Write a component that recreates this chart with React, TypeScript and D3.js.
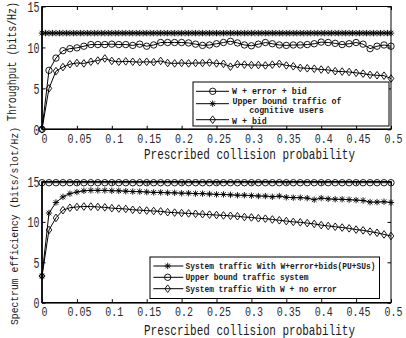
import React, { useEffect, useRef } from 'react';
import * as d3 from 'd3';

const probs = [0, 0.01, 0.02, 0.03, 0.04, 0.05, 0.06, 0.07, 0.08, 0.09, 0.1, 0.11, 0.12, 0.13, 0.14, 0.15, 0.16, 0.17, 0.18, 0.19, 0.2, 0.21, 0.22, 0.23, 0.24, 0.25, 0.26, 0.27, 0.28, 0.29, 0.3, 0.31, 0.32, 0.33, 0.34, 0.35, 0.36, 0.37, 0.38, 0.39, 0.4, 0.41, 0.42, 0.43, 0.44, 0.45, 0.46, 0.47, 0.48, 0.49, 0.5];
const probsFine = [0, 0.005, 0.01, 0.015, 0.02, 0.025, 0.03, 0.035, 0.04, 0.045, 0.05, 0.055, 0.06, 0.065, 0.07, 0.075, 0.08, 0.085, 0.09, 0.095, 0.1, 0.105, 0.11, 0.115, 0.12, 0.125, 0.13, 0.135, 0.14, 0.145, 0.15, 0.155, 0.16, 0.165, 0.17, 0.175, 0.18, 0.185, 0.19, 0.195, 0.2, 0.205, 0.21, 0.215, 0.22, 0.225, 0.23, 0.235, 0.24, 0.245, 0.25, 0.255, 0.26, 0.265, 0.27, 0.275, 0.28, 0.285, 0.29, 0.295, 0.3, 0.305, 0.31, 0.315, 0.32, 0.325, 0.33, 0.335, 0.34, 0.345, 0.35, 0.355, 0.36, 0.365, 0.37, 0.375, 0.38, 0.385, 0.39, 0.395, 0.4, 0.405, 0.41, 0.415, 0.42, 0.425, 0.43, 0.435, 0.44, 0.445, 0.45, 0.455, 0.46, 0.465, 0.47, 0.475, 0.48, 0.485, 0.49, 0.495, 0.5];
const xTicks = [0, 0.05, 0.1, 0.15, 0.2, 0.25, 0.3, 0.35, 0.4, 0.45, 0.5];
const yTicks = [0, 5, 10, 15];

// top panel: throughput
const thrErrBid = [0, 7.2, 8.7, 9.6, 9.85, 9.95, 10.15, 10.35, 10.35, 10.35, 10.4, 10.35, 10.35, 10.25, 10.4, 10.15, 10.3, 10.6, 10.6, 10.6, 10.6, 10.55, 10.4, 10.25, 10.3, 10.45, 10.6, 10.75, 10.55, 10.3, 10.2, 10.4, 10.6, 10.45, 10.3, 10.25, 10.3, 10.3, 10.35, 10.45, 10.65, 10.6, 10.5, 10.35, 10.45, 10.6, 10.4, 9.85, 10.15, 10.3, 10.15];
const thrUpper = [11.75, 11.75, 11.75, 11.75, 11.75, 11.75, 11.75, 11.75, 11.75, 11.75, 11.75, 11.75, 11.75, 11.75, 11.75, 11.75, 11.75, 11.75, 11.75, 11.75, 11.75, 11.75, 11.75, 11.75, 11.75, 11.75, 11.75, 11.75, 11.75, 11.75, 11.75, 11.75, 11.75, 11.75, 11.75, 11.75, 11.75, 11.75, 11.75, 11.75, 11.75, 11.75, 11.75, 11.75, 11.75, 11.75, 11.75, 11.75, 11.75, 11.75, 11.75, 11.75, 11.75, 11.75, 11.75, 11.75, 11.75, 11.75, 11.75, 11.75, 11.75, 11.75, 11.75, 11.75, 11.75, 11.75, 11.75, 11.75, 11.75, 11.75, 11.75, 11.75, 11.75, 11.75, 11.75, 11.75, 11.75, 11.75, 11.75, 11.75, 11.75, 11.75, 11.75, 11.75, 11.75, 11.75, 11.75, 11.75, 11.75, 11.75, 11.75, 11.75, 11.75, 11.75, 11.75, 11.75, 11.75, 11.75, 11.75, 11.75, 11.75];
const thrBid = [0, 5.0, 7.1, 7.6, 7.95, 8.1, 8.05, 8.25, 8.4, 8.65, 8.35, 8.25, 8.3, 8.25, 8.2, 8.25, 8.2, 8.35, 8.1, 8.05, 8.1, 8.05, 8.1, 8.1, 8.15, 8.05, 8.0, 7.65, 7.95, 7.9, 7.85, 7.85, 7.8, 7.9, 8.0, 7.8, 7.7, 7.5, 7.45, 7.4, 7.3, 7.25, 7.1, 7.05, 7.0, 6.9, 6.8, 6.65, 6.6, 6.55, 6.2];

// bottom panel: spectrum efficiency
const seErrBids = [3.3, 11.1, 12.4, 13.1, 13.5, 13.7, 13.85, 13.9, 13.9, 13.9, 13.85, 13.85, 13.8, 13.75, 13.75, 13.7, 13.65, 13.65, 13.6, 13.6, 13.55, 13.55, 13.5, 13.5, 13.45, 13.4, 13.4, 13.35, 13.3, 13.3, 13.25, 13.2, 13.2, 13.1, 13.2, 13.05, 13.0, 13.0, 12.95, 12.75, 12.95, 12.85, 12.8, 12.8, 12.75, 12.7, 12.65, 12.45, 12.45, 12.5, 12.4];
const seUpper = [14.85, 14.85, 14.85, 14.85, 14.85, 14.85, 14.85, 14.85, 14.85, 14.85, 14.85, 14.85, 14.85, 14.85, 14.85, 14.85, 14.85, 14.85, 14.85, 14.85, 14.85, 14.85, 14.85, 14.85, 14.85, 14.85, 14.85, 14.85, 14.85, 14.85, 14.85, 14.85, 14.85, 14.85, 14.85, 14.85, 14.85, 14.85, 14.85, 14.85, 14.85, 14.85, 14.85, 14.85, 14.85, 14.85, 14.85, 14.85, 14.85, 14.85, 14.85];
const seNoErr = [3.3, 9.0, 10.5, 11.45, 11.75, 11.85, 11.9, 11.9, 11.85, 11.8, 11.7, 11.65, 11.6, 11.5, 11.45, 11.4, 11.35, 11.3, 11.2, 11.15, 11.1, 11.05, 11.0, 10.95, 10.9, 10.85, 10.8, 10.75, 10.7, 10.6, 10.55, 10.45, 10.4, 10.3, 10.2, 10.1, 10.0, 9.95, 9.85, 9.75, 9.6, 9.5, 9.4, 9.3, 9.2, 9.05, 8.95, 8.8, 8.65, 8.45, 8.25];

const MONO = "'Liberation Mono', 'DejaVu Sans Mono', monospace";

type Marker = 'circle' | 'diamond' | 'star';

const markerPath = (kind: Marker, cx: number, cy: number) => {
  if (kind === 'circle') {
    const r = 3.2;
    return `M${cx - r},${cy}a${r},${r} 0 1,0 ${2 * r},0a${r},${r} 0 1,0 ${-2 * r},0`;
  }
  if (kind === 'diamond') {
    return `M${cx},${cy - 3.8}L${cx + 2.8},${cy}L${cx},${cy + 3.8}L${cx - 2.8},${cy}Z`;
  }
  const s = 3.2, d = 2.3;
  return `M${cx - s},${cy}L${cx + s},${cy}M${cx},${cy - s}L${cx},${cy + s}M${cx - d},${cy - d}L${cx + d},${cy + d}M${cx - d},${cy + d}L${cx + d},${cy - d}`;
};

export default function App() {
  const svgRef = useRef<SVGSVGElement>(null);
  const width = 406;
  const height = 338;

  useEffect(() => {
    if (!svgRef.current) return;
    const svg = d3.select(svgRef.current);
    svg.selectAll('*').remove();

    const x = d3.scaleLinear().domain([0, 0.5]).range([42, 391]);

    const stretched = (parent: any, tx: number, ty: number, txt: string, size: number, sy: number, anchor = 'start', rot = 0, len?: number, bold = false) => {
      const t = parent.append('text')
        .attr('transform', `translate(${tx},${ty})${rot ? ` rotate(${rot})` : ''} scale(1,${sy})`)
        .attr('text-anchor', anchor).attr('fill', '#1a1a1a')
        .style('font-family', MONO).style('font-size', `${size}px`).style('font-weight', bold ? 'bold' : 'normal')
        .text(txt);
      if (len) t.attr('textLength', len).attr('lengthAdjust', 'spacing');
      return t;
    };

    const drawPanel = (yBottom: number, yTop: number, series: { xs: number[]; ys: number[]; marker: Marker }[]) => {
      const y = d3.scaleLinear().domain([0, 15]).range([yBottom, yTop]);
      const g = svg.append('g');

      const bAxis = g.append('g').attr('transform', `translate(0,${yBottom})`)
        .call(d3.axisBottom(x).tickValues(xTicks).tickSize(-3.5).tickSizeOuter(0).tickFormat((d: any) => String(d)));
      const tAxis = g.append('g').attr('transform', `translate(0,${yTop})`)
        .call(d3.axisTop(x).tickValues(xTicks).tickSize(-3.5).tickSizeOuter(0).tickFormat(() => ''));
      const lAxis = g.append('g').attr('transform', `translate(42,0)`)
        .call(d3.axisLeft(y).tickValues(yTicks).tickSize(-3.5).tickSizeOuter(0).tickFormat((d: any) => String(d)));
      const rAxis = g.append('g').attr('transform', `translate(391,0)`)
        .call(d3.axisRight(y).tickValues(yTicks).tickSize(-3.5).tickSizeOuter(0).tickFormat(() => ''));
      [bAxis, tAxis, lAxis, rAxis].forEach(a => { a.select('.domain').remove(); a.attr('color', '#000'); });

      bAxis.selectAll('text').attr('y', 0).attr('dy', null).attr('fill', '#2a2a2a')
        .attr('transform', 'translate(2,13.5) scale(1,1.35)')
        .style('font-family', MONO).style('font-size', '10px');
      lAxis.selectAll('text').attr('x', 0).attr('dy', null).attr('fill', '#2a2a2a')
        .attr('text-anchor', 'end')
        .attr('transform', 'translate(-2.5,5) scale(1,1.4)')
        .style('font-family', MONO).style('font-size', '10px');

      const line = d3.line<[number, number]>().x(d => x(d[0])).y(d => y(d[1]));
      series.forEach(s => {
        const pts: [number, number][] = s.xs.map((v, i) => [v, s.ys[i]]);
        g.append('path').datum(pts).attr('fill', 'none').attr('stroke', '#000').attr('stroke-width', 1).attr('d', line);
        g.selectAll(null).data(pts).enter().append('path')
          .attr('d', d => markerPath(s.marker, x(d[0]), y(d[1])))
          .attr('fill', 'none').attr('stroke', '#000').attr('stroke-width', 0.9);
      });

      g.append('rect').attr('x', 42).attr('y', yTop).attr('width', 349).attr('height', yBottom - yTop)
        .attr('fill', 'none').attr('stroke', '#000').attr('stroke-width', 1);
      g.append('line').attr('x1', 42).attr('x2', 42).attr('y1', yTop).attr('y2', yBottom).attr('stroke', '#000').attr('stroke-width', 1.6);
      g.append('line').attr('x1', 42).attr('x2', 391).attr('y1', yBottom).attr('y2', yBottom).attr('stroke', '#000').attr('stroke-width', 1.6);
      return g;
    };

    drawPanel(129.3, 6.5, [
      { xs: probsFine, ys: thrUpper, marker: 'star' },
      { xs: probs, ys: thrErrBid, marker: 'circle' },
      { xs: probs, ys: thrBid, marker: 'diamond' },
    ]);
    drawPanel(302.7, 181.5, [
      { xs: probs, ys: seUpper, marker: 'circle' },
      { xs: probs, ys: seErrBids, marker: 'star' },
      { xs: probs, ys: seNoErr, marker: 'diamond' },
    ]);

    // axis titles
    stretched(svg, 249.5, 158.5, 'Prescribed collision probability', 11, 1.3, 'middle');
    stretched(svg, 249.5, 334.5, 'Prescribed collision probability', 11, 1.3, 'middle');
    stretched(svg, 15.5, 121, 'Throughput (bits/Hz)', 10, 1.2, 'start', -90, 119);
    stretched(svg, 17.5, 325, 'Spectrum efficiency (bits/slot/Hz)', 9.7, 1.2, 'start', -90, 198);

    // legend: top panel
    const lt = svg.append('g');
    lt.append('rect').attr('x', 193).attr('y', 82).attr('width', 196).attr('height', 44)
      .attr('fill', '#fff').attr('stroke', '#000').attr('stroke-width', 1);
    const topLeg: { ly: number; m: Marker }[] = [{ ly: 91.3, m: 'circle' }, { ly: 103.7, m: 'star' }, { ly: 119.7, m: 'diamond' }];
    topLeg.forEach(e => {
      lt.append('line').attr('x1', 196).attr('x2', 229).attr('y1', e.ly).attr('y2', e.ly).attr('stroke', '#000');
      lt.append('path').attr('d', markerPath(e.m, 212.7, e.ly)).attr('fill', 'none').attr('stroke', '#000').attr('stroke-width', 0.9);
    });
    stretched(lt, 232, 94, 'W + error + bid', 8.3, 1.05, 'start', 0, undefined, true);
    stretched(lt, 232.5, 103.8, 'Upper bound traffic of', 8.3, 1.05, 'start', 0, 109, true);
    stretched(lt, 286.5, 112.6, 'cognitive users', 8.3, 1.05, 'middle', 0, undefined, true);
    stretched(lt, 232, 124, 'W + bid', 8.3, 1.05, 'start', 0, undefined, true);

    // legend: bottom panel
    const lb = svg.append('g');
    lb.append('rect').attr('x', 150).attr('y', 257).attr('width', 229.5).attr('height', 41.5)
      .attr('fill', '#fff').attr('stroke', '#000').attr('stroke-width', 1);
    const botLeg: { ly: number; m: Marker; t: string }[] = [
      { ly: 266, m: 'star', t: 'System traffic With W+error+bids(PU+SUs)' },
      { ly: 277.3, m: 'circle', t: 'Upper bound traffic system' },
      { ly: 288.7, m: 'diamond', t: 'System traffic With W + no error' },
    ];
    botLeg.forEach((e, i) => {
      lb.append('line').attr('x1', 153.3).attr('x2', 183.3).attr('y1', e.ly).attr('y2', e.ly).attr('stroke', '#000');
      lb.append('path').attr('d', markerPath(e.m, 167.7, e.ly)).attr('fill', 'none').attr('stroke', '#000').attr('stroke-width', 0.9);
      stretched(lb, 185.5, e.ly + 3, e.t, 7.9, 1.05, 'start', 0, i === 0 ? 190 : undefined, true);
    });
  }, []);

  return (
    <svg ref={svgRef} width={width} height={height} viewBox={`0 0 ${width} ${height}`}
      style={{ position: 'absolute', left: 0, top: 0, background: '#fff' }} />
  );
}
